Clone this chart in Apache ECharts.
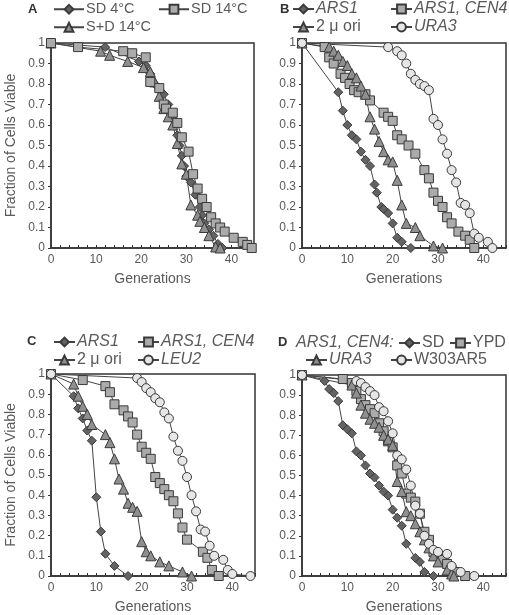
<!DOCTYPE html>
<html><head><meta charset="utf-8">
<script src="https://cdn.jsdelivr.net/npm/echarts@6/dist/echarts.min.js"></script>
<style>html,body{margin:0;padding:0;background:#fff}#c{width:509px;height:615px}</style>
</head><body><div id="c"></div>
<script>
// ---------- data ----------
const yTickLabels = ['0','0.1','0.2','0.3','0.4','0.5','0.6','0.7','0.8','0.9','1'];
const xTickLabels = [0,10,20,30,40];

// Panel A
const A_sd4 = [[0,1],[12,0.98],[19.5,0.91],[21,0.89],[22,0.85],[23,0.8],[24,0.77],[25,0.75],[26,0.7],[27,0.64],[27.5,0.6],[28,0.55],[28.5,0.5],[29,0.45],[29.5,0.4],[30,0.35],[31,0.32],[32,0.26],[33,0.2],[33.5,0.16],[34,0.12],[35,0.09],[36,0.06],[37,0.02],[38,0]];
const A_sd14 = [[0,1],[6,0.98],[16,0.96],[18,0.95],[21,0.93],[22,0.81],[24,0.78],[25,0.7],[25.5,0.68],[27,0.66],[28,0.61],[29,0.54],[30.5,0.47],[31.5,0.36],[32.5,0.29],[33.5,0.24],[34.5,0.2],[35.5,0.15],[36.5,0.12],[37.5,0.1],[38.5,0.08],[40.5,0.05],[42.5,0.03],[43.5,0.015],[44.5,0]];
const A_sdd14 = [[0,1],[11,0.96],[13,0.94],[17,0.91],[20.5,0.88],[22,0.86],[23,0.81],[24,0.74],[25,0.68],[26,0.64],[27,0.6],[28,0.51],[29,0.41],[30,0.36],[31,0.21],[32.5,0.16],[33,0.13],[34,0.1],[35,0.06],[36.5,0.005],[37.5,0]];
// Panel B
const B_ars1 = [[0,1],[8,0.76],[9,0.67],[10,0.6],[11,0.55],[12,0.53],[13,0.47],[14,0.43],[15,0.4],[16,0.31],[16.5,0.27],[17.5,0.2],[18,0.19],[19,0.17],[20,0.12],[21,0.05],[22,0.03],[24,0]];
const B_cen4 = [[0,1],[5,0.98],[6,0.93],[7,0.9],[8.5,0.85],[9.5,0.83],[10.5,0.8],[11.5,0.77],[12.5,0.76],[14,0.75],[15,0.72],[18,0.66],[19,0.64],[20,0.62],[21,0.55],[22,0.53],[23.5,0.5],[25,0.46],[27,0.38],[28,0.34],[29,0.27],[30,0.23],[31,0.2],[32,0.15],[33,0.12],[34.5,0.08],[36,0.06],[37,0.04],[38,0]];
const B_2mu = [[0,1],[6,0.98],[7,0.96],[8,0.94],[9,0.91],[10,0.89],[11,0.85],[12,0.83],[13,0.79],[14,0.75],[15,0.64],[16,0.58],[17,0.52],[18,0.47],[19,0.43],[20,0.42],[21,0.33],[22,0.21],[23,0.12],[25,0.1],[26,0.06],[29,0.01],[31,0]];
const B_ura3 = [[0,1],[19,0.98],[21,0.96],[22,0.94],[23,0.9],[24,0.85],[25,0.82],[26,0.8],[27,0.79],[28,0.77],[29,0.63],[30,0.6],[31,0.53],[32,0.46],[33,0.38],[34,0.32],[35,0.22],[36,0.21],[37,0.17],[38,0.07],[39,0.05],[41,0.03],[42,0]];
// Panel C
const C_ars1 = [[0,1],[5,0.89],[6,0.83],[7,0.78],[8,0.72],[9,0.67],[10,0.39],[11,0.22],[12,0.11],[14,0.05],[17,0]];
const C_cen4 = [[0,1],[7,0.97],[12,0.94],[13,0.91],[14,0.85],[16,0.82],[17,0.79],[18,0.76],[19,0.7],[20,0.64],[21,0.61],[22,0.58],[23,0.49],[24,0.46],[25,0.43],[26,0.4],[27,0.37],[28,0.31],[29,0.24],[30,0.18],[33.5,0.12],[34.5,0.09],[35.5,0.03],[37,0]];
const C_2mu = [[0,1],[5,0.95],[6,0.89],[7,0.84],[8,0.8],[9,0.75],[12,0.7],[13,0.66],[14,0.58],[15,0.48],[16,0.43],[17,0.36],[18,0.34],[19,0.32],[20,0.17],[21,0.12],[22,0.1],[24,0.07],[26,0.05],[29,0.02],[31,0]];
const C_leu2 = [[0,1],[19,0.98],[20,0.96],[21,0.93],[22,0.91],[23,0.88],[24,0.86],[25,0.81],[26,0.78],[27,0.69],[28,0.62],[29,0.57],[30,0.49],[31,0.4],[32,0.32],[33,0.23],[34,0.22],[35,0.15],[36,0.1],[38,0.08],[39,0.03],[40,0.01],[44,0]];
// Panel D
const D_sd = [[0,1],[5,0.97],[6,0.93],[7,0.91],[8,0.87],[9,0.75],[10,0.73],[11,0.71],[12,0.62],[13,0.6],[14,0.55],[15,0.51],[16,0.49],[17,0.45],[18,0.42],[19,0.4],[20,0.33],[21,0.29],[22,0.25],[23,0.16],[25,0.09],[26,0.07],[27,0.02],[29,0]];
const D_ypd = [[0,1],[9,0.98],[11,0.96],[12,0.92],[13,0.88],[14,0.85],[15,0.83],[16,0.81],[17,0.76],[18,0.72],[19,0.67],[20,0.64],[21,0.55],[22,0.51],[23,0.41],[24,0.39],[25,0.37],[26,0.31],[27,0.22],[28,0.18],[29,0.12],[30,0.1],[31,0.08],[32,0.06],[33,0.03],[34,0.02],[36,0]];
const D_ura3 = [[0,1],[11,0.95],[12,0.91],[13,0.85],[14,0.81],[15,0.78],[16,0.76],[17,0.74],[18,0.7],[19,0.68],[20,0.65],[21,0.47],[22,0.42],[23,0.32],[24,0.3],[25,0.26],[26,0.22],[27,0.18],[28,0.14],[29,0.1],[30,0.07],[32,0.03],[33,0.01],[33.5,0]];
const D_w303 = [[0,1],[12,0.97],[13,0.96],[14,0.94],[15,0.92],[16,0.9],[17,0.84],[18,0.82],[19,0.77],[20,0.71],[21,0.6],[22,0.58],[23,0.53],[24,0.45],[25,0.35],[26,0.31],[27,0.2],[28,0.16],[29,0.13],[30,0.12],[32,0.11],[33,0.05],[35,0.02],[38,0]];

// ---------- styles ----------
const FONT = 'Liberation Sans, Arial, sans-serif';
const TXT = '#595959';
const AX = '#333';
const MK = {
  diamond:  {symbol:'diamond',  size:9,  fill:'#636363'},
  rect:     {symbol:'rect',     size:9,  fill:'#ababab'},
  triangle: {symbol:'triangle', size:10, fill:'#8f8f8f'},
  circle:   {symbol:'circle',   size:9,  fill:'#e6e6e6'}
};

const grids = [
  {left:51, top:43, width:203, height:205},
  {left:302, top:43, width:204, height:205},
  {left:51, top:374, width:204, height:203},
  {left:302, top:375, width:204, height:202}
].map(g => Object.assign(g, {show:true, borderColor:AX, borderWidth:1.5, backgroundColor:'transparent'}));

function xAxis(i){
  return {type:'value', gridIndex:i, min:0, max:45, interval:2,
    name:'Generations', nameLocation:'middle', nameGap:24,
    nameTextStyle:{fontFamily:FONT, fontSize:14, color:TXT},
    axisLine:{lineStyle:{color:AX, width:1.5}},
    axisTick:{show:true, inside:true, length:3, lineStyle:{color:AX}},
    splitLine:{show:false},
    axisLabel:{fontFamily:FONT, fontSize:12, color:TXT, margin:6,
      formatter:v => xTickLabels.indexOf(v) >= 0 ? String(v) : ''}
  };
}
function yAxis(i, named){
  return {type:'value', gridIndex:i, min:0, max:1, interval:0.1,
    name: named ? 'Fraction of Cells Viable' : '', nameLocation:'middle', nameGap:33,
    nameTextStyle:{fontFamily:FONT, fontSize:14, color:TXT},
    axisLine:{show:true, lineStyle:{color:AX, width:1.5}},
    axisTick:{show:true, inside:false, length:3, lineStyle:{color:AX}},
    splitLine:{show:false},
    axisLabel:{fontFamily:FONT, fontSize:12, color:TXT, margin:6,
      formatter:v => yTickLabels[Math.round(v*10)]}
  };
}

function ser(name, data, gi, mk){
  const m = MK[mk];
  return {type:'line', name:name, data:data, xAxisIndex:gi, yAxisIndex:gi,
    symbol:m.symbol, symbolSize:m.size, showAllSymbol:true,
    lineStyle:{color:'#444', width:1},
    itemStyle:{color:m.fill, borderColor:'#3a3a3a', borderWidth:1},
    emphasis:{disabled:true}, animation:false};
}

const series = [
  ser('A_sd4', A_sd4, 0, 'diamond'),
  ser('A_sdd14', A_sdd14, 0, 'triangle'),
  ser('A_sd14', A_sd14, 0, 'rect'),
  ser('B_ars1', B_ars1, 1, 'diamond'),
  ser('B_cen4', B_cen4, 1, 'rect'),
  ser('B_2mu', B_2mu, 1, 'triangle'),
  ser('B_ura3', B_ura3, 1, 'circle'),
  ser('C_ars1', C_ars1, 2, 'diamond'),
  ser('C_cen4', C_cen4, 2, 'rect'),
  ser('C_2mu', C_2mu, 2, 'triangle'),
  ser('C_leu2', C_leu2, 2, 'circle'),
  ser('D_sd', D_sd, 3, 'diamond'),
  ser('D_ypd', D_ypd, 3, 'rect'),
  ser('D_ura3', D_ura3, 3, 'triangle'),
  ser('D_w303', D_w303, 3, 'circle')
];

function leg(sname, text, left, cy, italic, w, fs){
  return {show:true, data:[{name:sname}], left:left, top:cy-fs/2, padding:0,
    itemWidth:w, itemHeight:11, itemGap:0, selectedMode:false,
    formatter:() => text,
    textStyle:{fontFamily:FONT, fontSize:fs, color:TXT, fontStyle: italic?'italic':'normal', padding:[0,0,0,-3]}};
}
const legends = [
  leg('A_sd4', 'SD 4°C', 53, 9, false, 30, 14.5),
  leg('A_sd14', 'SD 14°C', 158, 9, false, 30, 14.5),
  leg('A_sdd14', 'S+D 14°C', 53, 27, false, 30, 14.5),
  leg('B_ars1', 'ARS1', 292, 9, true, 21, 16),
  leg('B_cen4', 'ARS1, CEN4', 390, 9, true, 21, 16),
  leg('B_2mu', '2 μ ori', 292, 27, false, 21, 16),
  leg('B_ura3', 'URA3', 390, 27, true, 21, 16),
  leg('C_ars1', 'ARS1', 53, 342, true, 21, 16),
  leg('C_cen4', 'ARS1, CEN4', 137, 342, true, 21, 16),
  leg('C_2mu', '2 μ ori', 53, 360, false, 21, 16),
  leg('C_leu2', 'LEU2', 137, 360, true, 21, 16),
  leg('D_sd', 'SD', 398, 343, false, 21, 16),
  leg('D_ypd', 'YPD', 449, 343, false, 21, 16),
  leg('D_ura3', 'URA3', 305, 360, true, 21, 16),
  leg('D_w303', 'W303AR5', 390, 360, false, 21, 16)
];

const chart = echarts.init(document.getElementById('c'), null, {renderer:'canvas'});
chart.setOption({
  animation:false,
  backgroundColor:'#fff',
  grid:grids,
  xAxis:[0,1,2,3].map(xAxis),
  yAxis:[yAxis(0,true), yAxis(1,false), yAxis(2,true), yAxis(3,false)],
  legend:legends,
  series:series,
  graphic:[
    {type:'text', left:28, top:3, style:{text:'A', font:'bold 13px '+FONT, fill:'#333'}},
    {type:'text', left:280, top:3, style:{text:'B', font:'bold 13px '+FONT, fill:'#333'}},
    {type:'text', left:27, top:335, style:{text:'C', font:'bold 13px '+FONT, fill:'#333'}},
    {type:'text', left:278, top:336, style:{text:'D', font:'bold 13px '+FONT, fill:'#333'}},
    {type:'text', left:296, top:335, style:{text:'ARS1, CEN4:', font:'italic 16px '+FONT, fill:TXT}}
  ]
});
</script></body></html>
